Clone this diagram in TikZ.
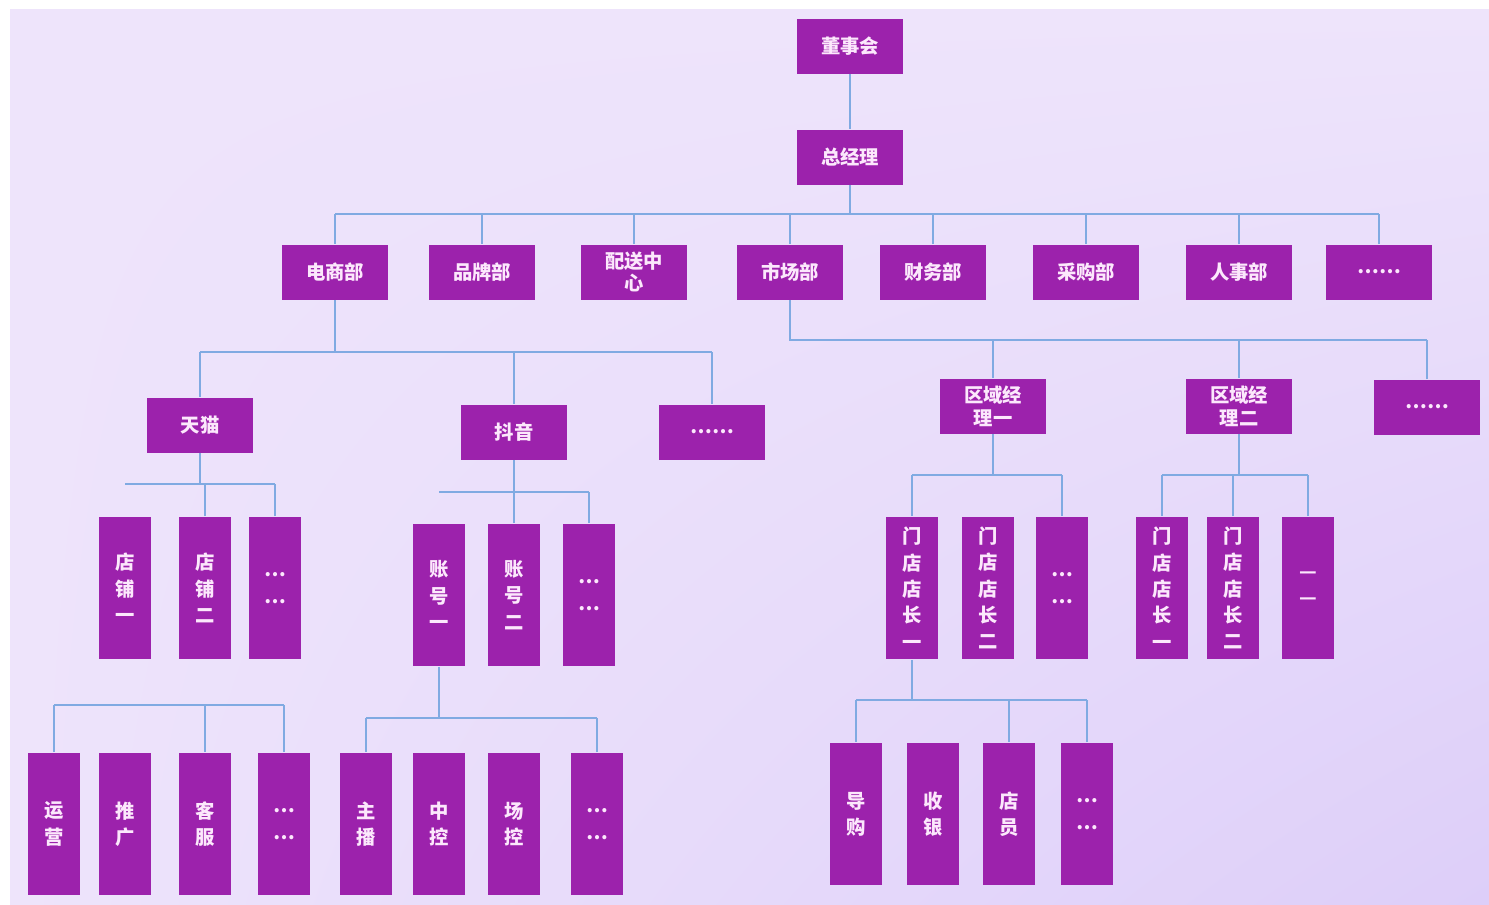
\documentclass[tikz,border=0pt]{standalone}
\usepackage{fontspec}
\newfontfamily\cjk{Noto Sans CJK SC}
\usepackage{tikz}
\usetikzlibrary{positioning,calc,shadings}
\usepackage{xcolor}
\definecolor{boxpurple}{RGB}{156,34,172}
\definecolor{boxtext}{RGB}{252,232,252}
\definecolor{linkblue}{RGB}{128,170,226}
\definecolor{bgl}{RGB}{238,228,251}
\definecolor{bgr}{RGB}{221,206,249}

\begin{document}
\begin{tikzpicture}[x=0.02cm, y=-0.02cm,
    hbox/.style={rectangle, fill=boxpurple, minimum width=2.12cm, minimum height=1.1cm, inner sep=0pt, font=\cjk\bfseries\fontsize{11}{13}\selectfont, text=boxtext, align=center},
    vbox/.style={rectangle, fill=boxpurple, minimum width=1.04cm, minimum height=2.86cm, inner sep=0pt, font=\cjk\bfseries\fontsize{11}{15}\selectfont, text=boxtext, align=center},
    link/.style={draw=linkblue, line width=1.1pt}
]
\useasboundingbox (0,0) rectangle (1489,904);
\shade[upper left=bgl, upper right=bgl, lower left=bgl, lower right=bgr] (10,9) rectangle (1489,904);

% top
\node[hbox] (dsh) at (850,46) {董事会};
\node[hbox] (zjl) at (850,157) {总经理};
% departments
\node[hbox] (dsb) at (335,272) {电商部};
\node[hbox] (ppb) at (482,272) {品牌部};
\node[hbox] (psz) at (634,272) {配送中\\心};
\node[hbox] (scb) at (790,272) {市场部};
\node[hbox] (cwb) at (933,272) {财务部};
\node[hbox] (cgb) at (1086,272) {采购部};
\node[hbox] (rsb) at (1239,272) {人事部};
\node[hbox] (more1) at (1379,272) {……};
% platforms and regions
\node[hbox] (tm) at (200,425) {天猫};
\node[hbox] (dy) at (514,432) {抖音};
\node[hbox] (more2) at (712,432) {……};
\node[hbox] (qy1) at (993,406) {区域经\\理一};
\node[hbox] (qy2) at (1239,406) {区域经\\理二};
\node[hbox] (more3) at (1427,407) {……};
% shops, accounts, stores
\node[vbox] (dp1) at (125,588) {店\\铺\\一};
\node[vbox] (dp2) at (205,588) {店\\铺\\二};
\node[vbox] (more4) at (275,588) {…\\…};
\node[vbox] (zh1) at (439,595) {账\\号\\一};
\node[vbox] (zh2) at (514,595) {账\\号\\二};
\node[vbox] (more5) at (589,595) {…\\…};
\node[vbox] (md1) at (912,588) {门\\店\\店\\长\\一};
\node[vbox] (md2) at (988,588) {门\\店\\店\\长\\二};
\node[vbox] (more6) at (1062,588) {…\\…};
\node[vbox] (md3) at (1162,588) {门\\店\\店\\长\\一};
\node[vbox] (md4) at (1233,588) {门\\店\\店\\长\\二};
\node[vbox] (more7) at (1308,588) {—\\—};
% staff
\node[vbox] (yy) at (54,824) {运\\营};
\node[vbox] (tg) at (125,824) {推\\广};
\node[vbox] (kf) at (205,824) {客\\服};
\node[vbox] (more8) at (284,824) {…\\…};
\node[vbox] (zb) at (366,824) {主\\播};
\node[vbox] (zk) at (439,824) {中\\控};
\node[vbox] (ck) at (514,824) {场\\控};
\node[vbox] (more9) at (597,824) {…\\…};
\node[vbox] (dg) at (856,814) {导\\购};
\node[vbox] (sy) at (933,814) {收\\银};
\node[vbox] (dy2) at (1009,814) {店\\员};
\node[vbox] (more10) at (1087,814) {…\\…};

% bus lines
\coordinate (bar0) at (850,214);
\coordinate (bar1) at (335,352);
\coordinate (bar2) at (790,340);
\coordinate (bar3) at (200,484);
\coordinate (bar4) at (514,492);
\coordinate (bar5) at (993,475);
\coordinate (bar6) at (1239,475);
\coordinate (bar7) at (205,705);
\coordinate (bar8) at (439,718);
\coordinate (bar9) at (912,700);

\draw[link] (dsh) -- (zjl);
\draw[link] (zjl) -- (zjl |- bar0);
\draw[link] (dsb |- bar0) -- (more1 |- bar0);
\draw[link] (dsb) -- (dsb |- bar0) (ppb) -- (ppb |- bar0) (psz) -- (psz |- bar0) (scb) -- (scb |- bar0)
    (cwb) -- (cwb |- bar0) (cgb) -- (cgb |- bar0) (rsb) -- (rsb |- bar0) (more1) -- (more1 |- bar0);

\draw[link] (dsb) -- (dsb |- bar1);
\draw[link] (tm |- bar1) -- (more2 |- bar1);
\draw[link] (tm) -- (tm |- bar1) (dy) -- (dy |- bar1) (more2) -- (more2 |- bar1);

\draw[link] (scb) -- (scb |- bar2) -- (more3 |- bar2);
\draw[link] (qy1) -- (qy1 |- bar2) (qy2) -- (qy2 |- bar2) (more3) -- (more3 |- bar2);

\draw[link] (tm) -- (tm |- bar3);
\draw[link] (dp1 |- bar3) -- (more4 |- bar3);
\draw[link] (dp2) -- (dp2 |- bar3) (more4) -- (more4 |- bar3);

\draw[link] (dy) -- (dy |- bar4);
\draw[link] (zh1 |- bar4) -- (more5 |- bar4);
\draw[link] (zh2) -- (zh2 |- bar4) (more5) -- (more5 |- bar4);

\draw[link] (qy1) -- (qy1 |- bar5);
\draw[link] (md1 |- bar5) -- (more6 |- bar5);
\draw[link] (md1) -- (md1 |- bar5) (more6) -- (more6 |- bar5);

\draw[link] (qy2) -- (qy2 |- bar6);
\draw[link] (md3 |- bar6) -- (more7 |- bar6);
\draw[link] (md3) -- (md3 |- bar6) (md4) -- (md4 |- bar6) (more7) -- (more7 |- bar6);

\draw[link] (yy |- bar7) -- (more8 |- bar7);
\draw[link] (yy) -- (yy |- bar7) (kf) -- (kf |- bar7) (more8) -- (more8 |- bar7);

\draw[link] (zh1) -- (zh1 |- bar8);
\draw[link] (zb |- bar8) -- (more9 |- bar8);
\draw[link] (zb) -- (zb |- bar8) (more9) -- (more9 |- bar8);

\draw[link] (md1) -- (md1 |- bar9);
\draw[link] (dg |- bar9) -- (more10 |- bar9);
\draw[link] (dg) -- (dg |- bar9) (dy2) -- (dy2 |- bar9) (more10) -- (more10 |- bar9);
\end{tikzpicture}
\end{document}
